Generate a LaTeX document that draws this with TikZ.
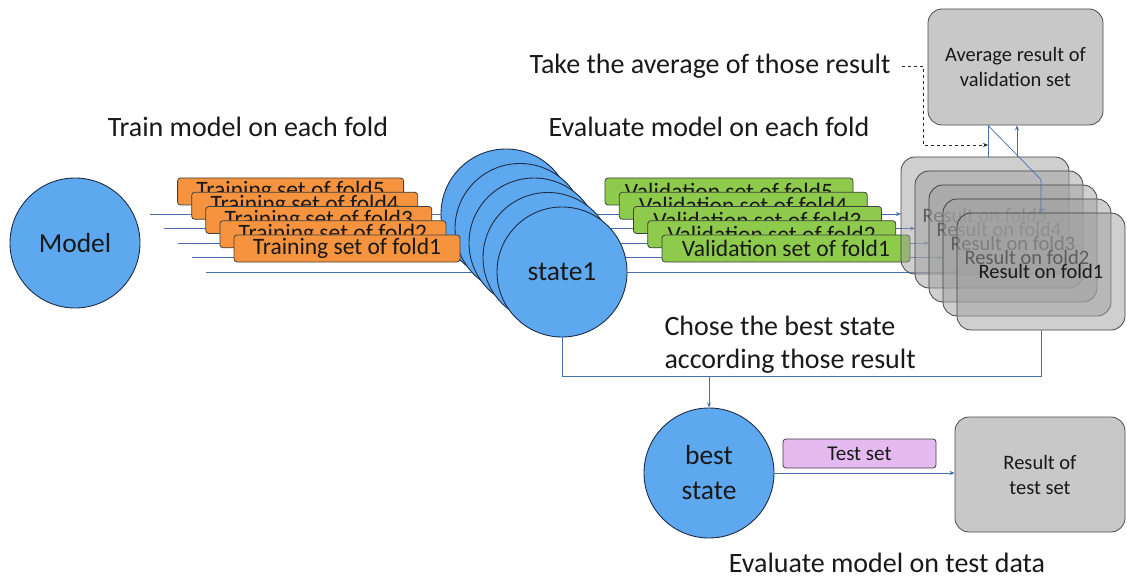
\documentclass[tikz,border=0pt]{standalone}
\usepackage{fontspec}
\setmainfont{Carlito}
\usetikzlibrary{arrows.meta}
\definecolor{cblue}{RGB}{94,168,240}
\definecolor{cbord}{RGB}{30,45,70}
\definecolor{corange}{RGB}{245,147,62}
\definecolor{cgreen}{RGB}{142,202,76}
\definecolor{cpurple}{RGB}{228,186,240}
\definecolor{cgray}{RGB}{200,200,200}
\definecolor{cresg}{RGB}{160,160,160}
\definecolor{cline}{RGB}{70,110,180}
\definecolor{ctext}{RGB}{25,25,25}
\tikzset{
  big/.style={font=\fontsize{28}{33}\selectfont, text=ctext},
  circ/.style={circle, draw=cbord, line width=0.9pt, fill=cblue, minimum size=130pt, inner sep=0pt, font=\fontsize{27.5}{35}\selectfont, text=ctext, align=center},
  trn/.style={draw=black!75, line width=0.8pt, rounded corners=3pt, fill=corange, minimum width=226pt, minimum height=27pt, inner sep=0pt, font=\fontsize{23.5}{25}\selectfont, text=ctext},
  val/.style={draw=black!75, line width=0.8pt, rounded corners=3pt, fill=cgreen, minimum width=248pt, minimum height=27pt, inner sep=0pt, font=\fontsize{23.5}{25}\selectfont, text=ctext},
  res/.style={draw=black!80, line width=0.8pt, rounded corners=14pt, fill=cresg, fill opacity=0.5, draw opacity=0.9, text opacity=1, minimum width=168pt, minimum height=117pt, inner sep=0pt, font=\fontsize{20.5}{25}\selectfont, text=ctext},
  gbox/.style={draw=black!70, line width=0.8pt, rounded corners=14pt, fill=cgray, inner sep=0pt, font=\fontsize{20.5}{25}\selectfont, text=ctext, align=center},
  conn/.style={draw=cline, line width=0.7pt},
  arr/.style={conn, -{Stealth[length=5pt,width=4pt]}}
}
\begin{document}
\begin{tikzpicture}[x=1pt,y=-1pt]
\useasboundingbox[fill=white] (0,0) rectangle (1127,588);

% titles
\node[big] (ttrain) at (248,127) {Train model on each fold};
\node[big] (teval) at (709,127) {Evaluate model on each fold};
\node[big] (tavg) at (710,66) {Take the average of those result};
\node[big, anchor=west, align=left] (tchose) at (661,345) {Chose the best state\\according those result};
\node[big] (ttest) at (887,563) {Evaluate model on test data};

% model
\node[circ] (model) at (75,243) {Model};

% training line start points
\coordinate (s5) at (150,214);
\coordinate (s4) at (164,228.5);
\coordinate (s3) at (178,243);
\coordinate (s2) at (192,257.5);
\coordinate (s1) at (206,272);

% state circles positions
\path (506,214) coordinate (p5) (520,228.5) coordinate (p4) (534,243) coordinate (p3) (548,257.5) coordinate (p2) (562,272) coordinate (p1);

% result boxes positions
\path (985,215.5) coordinate (q5) (999,229.5) coordinate (q4) (1013,243.5) coordinate (q3) (1027,257.5) coordinate (q2) (1041,271.5) coordinate (q1);

% lines (under everything)
\foreach \k in {5,4,3,2}{
  \draw[conn] (s\k) -- ([xshift=-65pt]p\k);
}
\draw[arr] (s1) -- ([xshift=-65pt]p1);
\foreach \k in {5,4,3,2,1}{
  \draw[arr] ([xshift=65pt]p\k) -- ([xshift=-84pt]p\k -| q\k);
}

% state circles
\node[circ] (c5) at (p5) {};
\node[circ] (c4) at (p4) {};
\node[circ] (c3) at (p3) {};
\node[circ] (c2) at (p2) {};
\node[circ] (c1) at (p1) {state1};

% training boxes
\node[trn] (tr5) at (290.6,191.5) {Training set of fold5};
\node[trn] (tr4) at (304.7,205.75) {Training set of fold4};
\node[trn] (tr3) at (318.8,220) {Training set of fold3};
\node[trn] (tr2) at (332.9,234.25) {Training set of fold2};
\node[trn] (tr1) at (347,248.5) {Training set of fold1};

% validation boxes
\node[val] (v5) at (729,191.5) {Validation set of fold5};
\node[val] (v4) at (743.25,205.75) {Validation set of fold4};
\node[val] (v3) at (757.5,220) {Validation set of fold3};
\node[val] (v2) at (771.75,234.25) {Validation set of fold2};
\node[val] (v1) at (786,248.5) {Validation set of fold1};

% result boxes
\node[res] (r5) at (q5) {Result on fold5};
\node[res] (r4) at (q4) {Result on fold4};
\node[res] (r3) at (q3) {Result on fold3};
\node[res] (r2) at (q2) {Result on fold2};
\node[res] (r1) at (q1) {Result on fold1};

% average box
\node[gbox, minimum width=175pt, minimum height=116pt] (avg) at (1015.5,67) {Average result of\\validation set};

% connectors to average
\draw[conn] ([xshift=3pt]r5.north) -- ([xshift=3pt]r5.north |- avg.south);
\draw[arr] ([xshift=32pt]r5.north) -- ([xshift=32pt]r5.north |- avg.south);
\draw[conn] (r1.north) -- ++(0,-33) -- ([xshift=-27.5pt]avg.south);

% dashed from text
\coordinate (dend) at (988,145);
\draw[black!85, line width=0.7pt, dashed, -{Stealth[length=5pt,width=4pt]}] ([xshift=8pt]tavg.east) -- (923,66) -- (923,145) -- (dend);

% best state
\node[circ] (best) at (709,473) {\raisebox{-3pt}{best}\\\raisebox{-3pt}{state}};
\coordinate (join) at (709,376);
\draw[conn] (c1.south) -- (c1.south |- join) -| (r1.south);
\draw[arr] (join) -- (best.north);

% test set
\node[draw=black!75, line width=0.8pt, rounded corners=3pt, fill=cpurple, minimum width=153pt, minimum height=29pt, inner sep=0pt, font=\fontsize{21}{25}\selectfont, text=ctext] (test) at (859.5,453.5) {Test set};
\node[gbox, minimum width=170pt, minimum height=115pt] (rtest) at (1040,474.5) {Result of\\test set};
\draw[arr] (best.east) -- (best.east -| rtest.west);
\end{tikzpicture}
\end{document}
